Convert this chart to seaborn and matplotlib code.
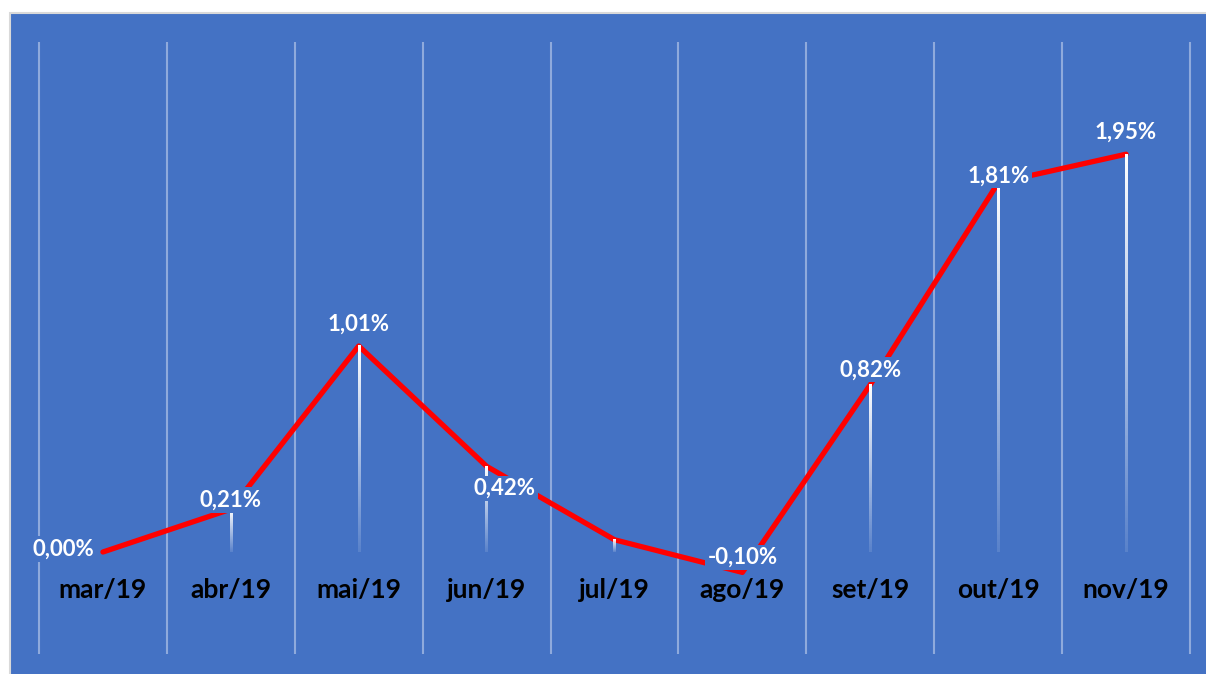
import numpy as np
import pandas as pd
import seaborn as sns
import matplotlib.pyplot as plt
from matplotlib.patches import Rectangle

# data
months = ["mar/19", "abr/19", "mai/19", "jun/19", "jul/19", "ago/19", "set/19", "out/19", "nov/19"]
values = [0.00, 0.21, 1.01, 0.42, 0.06, -0.10, 0.82, 1.81, 1.95]
labels = ["0,00%", "0,21%", "1,01%", "0,42%", "", "-0,10%", "0,82%", "1,81%", "1,95%"]

# label offsets in pixels (dx, dy) relative to each point
label_offsets = [(-40, 3), (0, 9), (0, 22), (18, -22), (0, 0), (0, 15), (0, 15), (0, 7), (0, 22)]

BLUE = "#4472C4"
GRID = "#8FAADC"

sns.set_style("white")
plt.rcParams["font.family"] = ["Lato", "DejaVu Sans"]

df = pd.DataFrame({"pos": np.arange(len(months)), "value": values})

fig = plt.figure(figsize=(12.06, 6.74), dpi=100, facecolor="white")
W, H = 1206, 674

# background axes: blue chart area with light grey border
bg = fig.add_axes([0, 0, 1, 1], zorder=0)
bg.set_xlim(0, W)
bg.set_ylim(H, 0)
bg.axis("off")
bg.add_patch(Rectangle((10, 13), W, H, facecolor=BLUE, edgecolor="#D9D9D9", linewidth=1.5))

ax = fig.add_axes([39 / W, 20 / H, 1151 / W, 612 / H], zorder=1)
ax.set_facecolor("none")
ax.set_xlim(-0.5, len(months) - 0.5)
ax.set_ylim(-0.5, 2.5)

# vertical gridlines between categories
ax.vlines(np.arange(len(months) + 1) - 0.5, -0.5, 2.5, color=GRID, lw=1.5, clip_on=False, zorder=1)

# red line
sns.lineplot(data=df, x="pos", y="value", color="#FF0000", lw=3.8, ax=ax, zorder=3)

# white drop lines fading towards the baseline (gradient image)
grad = np.ones((64, 1, 4))
grad[:, 0, 3] = np.linspace(1.0, 0.12, 64)
half_w = 1.2 / (1151 / len(months))
for x, v in zip(df["pos"], df["value"]):
    if v <= 0:
        continue
    ax.imshow(grad, extent=[x - half_w, x + half_w, 0, v], aspect="auto",
              interpolation="bilinear", zorder=4, origin="upper")

# data labels with blue box hiding the line
for x, v, txt, (dx, dy) in zip(df["pos"], df["value"], labels, label_offsets):
    if not txt:
        continue
    ax.annotate(txt, (x, v), xytext=(dx * 0.72, dy * 0.72), textcoords="offset points",
                ha="center", va="center", color="white", fontsize=16, fontweight="bold",
                bbox=dict(boxstyle="square,pad=0.1", fc=BLUE, ec="none"), zorder=5)

# category axis sitting at zero
ax.spines["bottom"].set_position(("data", 0))
for s in ax.spines.values():
    s.set_visible(False)
ax.set_xticks(df["pos"])
ax.set_xticklabels(months, fontsize=19, fontweight="bold", color="black")
ax.tick_params(axis="x", length=0, pad=19)
ax.set_yticks([])
ax.set_xlabel("")
ax.set_ylabel("")
ax.set_xlim(-0.5, len(months) - 0.5)
ax.set_ylim(-0.5, 2.5)

fig.savefig("out.png", dpi=100, facecolor="white")
